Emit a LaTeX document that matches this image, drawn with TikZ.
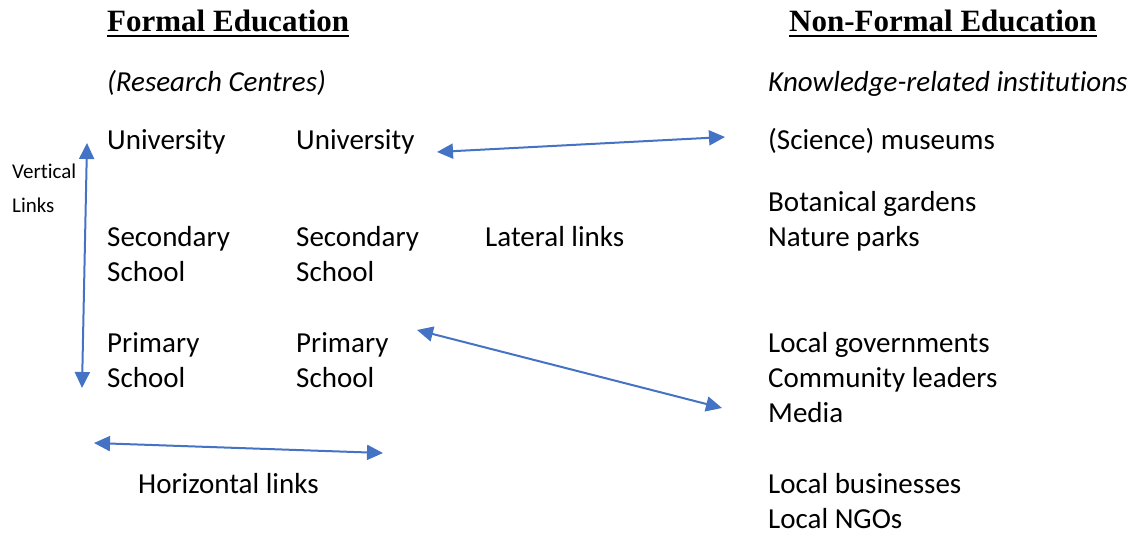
\documentclass[tikz,border=0pt]{standalone}
\usepackage{fontspec}
\setmainfont{Carlito}[Ligatures=NoCommon]
\newfontfamily\headfont{Liberation Serif}
\usetikzlibrary{arrows.meta}
\definecolor{linkblue}{HTML}{4472C4}
\begin{document}
\begin{tikzpicture}[x=1pt,y=-1pt,
	txt/.style={anchor=base west,inner sep=0pt,align=left,font=\fontsize{29}{35}\selectfont},
	head/.style={anchor=base west,inner sep=0pt,font=\headfont\bfseries\fontsize{31}{36}\selectfont},
	small/.style={anchor=base west,inner sep=0pt,align=left,font=\fontsize{21}{34}\selectfont},
	link/.style={draw=linkblue,line width=2pt,{Triangle[length=16pt,width=15pt]}-{Triangle[length=16pt,width=15pt]}},
	uline/.style={line width=2.6pt}]
	\useasboundingbox (0,0) rectangle (1135,534);
	% headings
	\node[head] (formal) at (107,32) {Formal Education};
	\node[head] (nonformal) at (789,32) {Non-Formal Education};
	\draw[uline] ([yshift=-4pt]formal.base west)--([yshift=-4pt]formal.base east);
	\draw[uline] ([yshift=-4pt]nonformal.base west)--([yshift=-4pt]nonformal.base east);
	% formal side (base = last line)
	\node[txt] (research) at (107,92) {\itshape (Research Centres)};
	\node[txt] (uni1) at (107,150) {University};
	\node[txt] (uni2) at (296,150) {University};
	\node[txt] (sec1) at (107,282) {Secondary\\School};
	\node[txt] (sec2) at (296,282) {Secondary\\School};
	\node[txt] (lateral) at (485,247) {Lateral links};
	\node[txt] (prim1) at (107,388) {Primary\\School};
	\node[txt] (prim2) at (296,388) {Primary\\School};
	\node[txt] (horiz) at (138,493) {Horizontal links};
	\node[small] (vert) at (12,213) {Vertical\\Links};
	% non-formal side
	\node[txt] (knowledge) at (768,92) {\itshape Knowledge-related institutions};
	\node[txt] (museums) at (768,150) {(Science) museums};
	\node[txt] (gardens) at (768,247) {Botanical gardens\\Nature parks};
	\node[txt] (local) at (768,422) {Local governments\\Community leaders\\Media};
	\node[txt] (business) at (768,528) {Local businesses\\Local NGOs};
	% links
	\coordinate (v1) at (87,143);
	\coordinate (v2) at (82,388);
	\coordinate (u1) at (437,152);
	\coordinate (u2) at (725,137);
	\coordinate (p1) at (417,330);
	\coordinate (p2) at (722,408);
	\coordinate (h1) at (94,443);
	\coordinate (h2) at (383,453);
	\draw[link] (v1)--(v2);
	\draw[link] (u1)--(u2);
	\draw[link] (p1)--(p2);
	\draw[link] (h1)--(h2);
\end{tikzpicture}
\end{document}
